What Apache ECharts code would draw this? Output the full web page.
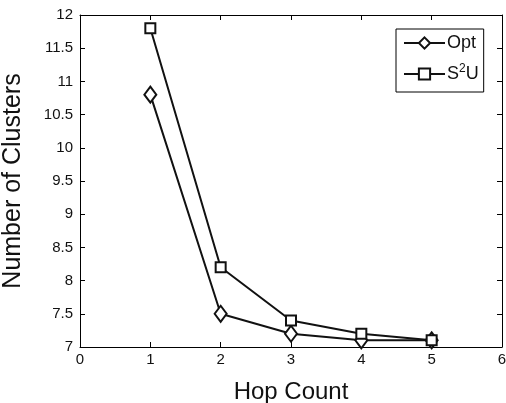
<!DOCTYPE html>
<html>
<head>
<meta charset="utf-8">
<script src="https://cdn.jsdelivr.net/npm/echarts@6/dist/echarts.min.js"></script>
<style>
  html, body { margin: 0; padding: 0; background: #fff; }
  #chart { width: 506px; height: 403px; }
</style>
</head>
<body>
<div id="chart"></div>
<script>
// values
var hopCount = [1, 2, 3, 4, 5]
var optValues = [10.8, 7.5, 7.2, 7.1, 7.1]
var s2uValues = [11.8, 8.2, 7.4, 7.2, 7.1]

var font = 'Liberation Sans, Arial, Helvetica, sans-serif'

function pairs(xs, ys) {
  return xs.map(function(x, i) { return [x, ys[i]] })
}

var myChart = echarts.init(document.getElementById('chart'))

var baseAxis = {
  axisLine: { show: true, onZero: false, lineStyle: { color: '#000', width: 1 } },
  axisTick: { show: true, inside: true, length: 5, lineStyle: { color: '#000' } },
  splitLine: { show: false }
}

var option = {
  animation: false,
  backgroundColor: '#fff',
  grid: {
    left: 80,
    right: 4,
    top: 15,
    bottom: 56,
    outerBoundsMode: 'none',
    containLabel: false,
    show: false
  },
  legend: {
    orient: 'vertical',
    left: 396,
    top: 29,
    padding: [5, 5, 9, 7],
    itemGap: 11,
    itemWidth: 41,
    itemHeight: 14,
    borderColor: '#000',
    borderWidth: 1,
    backgroundColor: '#fff',
    data: ['Opt', 'S2U'],
    formatter: function(name) {
      return name === 'S2U' ? 'S{sup|2}U' : name
    },
    textStyle: {
      fontFamily: font,
      fontSize: 18,
      color: '#111',
      padding: [0, 0, 0, -3],
      rich: {
        sup: { fontFamily: font, fontSize: 12, color: '#111', padding: [0, 0, 10, 0] }
      }
    }
  },
  xAxis: [
    Object.assign({}, baseAxis, {
      type: 'value',
      min: 0,
      max: 6,
      interval: 1,
      position: 'bottom',
      name: 'Hop Count',
      nameLocation: 'middle',
      nameGap: 33,
      nameTextStyle: { fontFamily: font, fontSize: 24, color: '#111' },
      axisLabel: { fontFamily: font, fontSize: 15, color: '#111', margin: 5 }
    }),
    Object.assign({}, baseAxis, {
      type: 'value',
      min: 0,
      max: 6,
      interval: 1,
      position: 'top',
      axisLabel: { show: false }
    })
  ],
  yAxis: [
    Object.assign({}, baseAxis, {
      type: 'value',
      min: 7,
      max: 12,
      interval: 0.5,
      position: 'left',
      name: 'Number of Clusters',
      nameLocation: 'middle',
      nameGap: 54,
      nameTextStyle: { fontFamily: font, fontSize: 25, color: '#111' },
      axisLabel: { fontFamily: font, fontSize: 15, color: '#111', margin: 7 }
    }),
    Object.assign({}, baseAxis, {
      type: 'value',
      min: 7,
      max: 12,
      interval: 0.5,
      position: 'right',
      axisLabel: { show: false }
    })
  ],
  series: [
    {
      name: 'Opt',
      type: 'line',
      data: pairs(hopCount, optValues),
      symbol: 'diamond',
      symbolSize: [12, 16],
      lineStyle: { color: '#111', width: 2 },
      itemStyle: { color: '#fff', borderColor: '#111', borderWidth: 2 }
    },
    {
      name: 'S2U',
      type: 'line',
      data: pairs(hopCount, s2uValues),
      symbol: 'rect',
      symbolSize: 10,
      lineStyle: { color: '#111', width: 2 },
      itemStyle: { color: '#fff', borderColor: '#111', borderWidth: 2 }
    }
  ]
}
myChart.setOption(option)
</script>
</body>
</html>
